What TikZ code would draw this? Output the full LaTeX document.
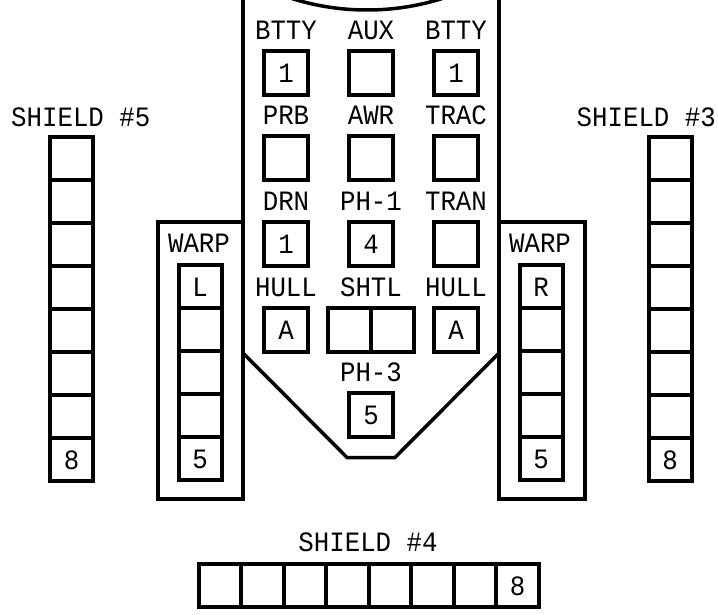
\documentclass[tikz,border=0pt]{standalone}
\usepackage{fontspec}
\newfontfamily\pix[FakeStretch=0.92]{Liberation Mono}
\begin{document}
\begin{tikzpicture}[x=1pt,y=-1pt,
  txt/.style={font=\pix\fontsize{28}{28}\selectfont, text height=19pt, text depth=0pt},
  cell/.style={draw, line width=4pt, minimum width=43pt, minimum height=43pt, inner sep=0pt, txt},
  lab/.style={inner sep=0pt, txt},
  hull/.style={draw, line width=3.5pt, line join=miter},
  warpbox/.style={draw, line width=4pt}]
\useasboundingbox (0,0) rectangle (718,615);
\clip (0,0) rectangle (718,615);
\fill[white] (0,0) rectangle (718,615);

% hull outline
\draw[hull] (367,-240) circle (250);
\draw[hull] (243,-5) -- (243,222);
\draw[hull] (499,-5) -- (499,222);
\draw[hull] (243,353) -- (347,457.5) -- (395,457.5) -- (499,353);

% warp boxes
\draw[warpbox] (157.5,222) rectangle (243,499);
\draw[warpbox] (499,222) rectangle (584.5,499);

% central system boxes
\node[lab] (lBTTYa) at (286,30) {BTTY};
\node[lab] (lAUX) at (371,30) {AUX};
\node[lab] (lBTTYb) at (456,30) {BTTY};
\node[cell, minimum size=44pt] (bBTTYa) at (286,73) {1};
\node[cell, minimum size=44pt] (bAUX) at (371,73) {};
\node[cell, minimum size=44pt] (bBTTYb) at (456,73) {1};

\node[lab] (lPRB) at (286,115) {PRB};
\node[lab] (lAWR) at (371,115) {AWR};
\node[lab] (lTRAC) at (456,115) {TRAC};
\node[cell, minimum size=44pt] (bPRB) at (286,158.5) {};
\node[cell, minimum size=44pt] (bAWR) at (371,158.5) {};
\node[cell, minimum size=44pt] (bTRAC) at (456,158.5) {};

\node[lab] (lDRN) at (286,201) {DRN};
\node[lab] (lPH1) at (371,201) {PH-1};
\node[lab] (lTRAN) at (456,201) {TRAN};
\node[cell, minimum size=44pt] (bDRN) at (286,244) {1};
\node[cell, minimum size=44pt] (bPH1) at (371,244) {4};
\node[cell, minimum size=44pt] (bTRAN) at (456,244) {};

\node[lab] (lHULLa) at (286,287) {HULL};
\node[lab] (lSHTL) at (371,287) {SHTL};
\node[lab] (lHULLb) at (456,287) {HULL};
\node[cell, minimum size=44pt] (bHULLa) at (286,329.5) {A};
\node[cell, minimum width=43pt, minimum height=44pt] (bSHTLa) at (349.5,329.5) {};
\node[cell, minimum width=43pt, minimum height=44pt] (bSHTLb) at (392.5,329.5) {};
\node[cell, minimum size=44pt] (bHULLb) at (456,329.5) {A};

\node[lab] (lPH3) at (371,372) {PH-3};
\node[cell, minimum size=44pt] (bPH3) at (371,415) {5};

% warp engines
\node[lab] (lWARPL) at (199,243) {WARP};
\node[lab] (lWARPR) at (540,243) {WARP};
\node[cell] (wL0) at (200,286.5) {L};
\foreach \i in {1,2,3} \node[cell] (wL\i) at (200,{286.5+43*\i}) {};
\node[cell] (wL4) at (200,458.5) {5};
\node[cell] (wR0) at (541,286.5) {R};
\foreach \i in {1,2,3} \node[cell] (wR\i) at (541,{286.5+43*\i}) {};
\node[cell] (wR4) at (541,458.5) {5};

% shields 5 and 3
\node[lab, anchor=west] (lS5) at (11,117) {SHIELD \#5};
\node[lab, anchor=east] (lS3) at (716,117) {SHIELD \#3};
\foreach \i in {0,...,6} {
  \node[cell] (sf\i) at (71.5,{158.5+43*\i}) {};
  \node[cell] (st\i) at (670,{158.5+43*\i}) {};
}
\node[cell] (sf7) at (71.5,459.5) {8};
\node[cell] (st7) at (670,459.5) {8};

% shield 4
\node[lab] (lS4) at (368,542) {SHIELD \#4};
\foreach \i in {0,...,6}
  \node[cell, minimum width=42.5pt] (sq\i) at ({220+42.5*\i},585.5) {};
\node[cell, minimum width=42.5pt] (sq7) at (517.5,585.5) {8};
\end{tikzpicture}
\end{document}
